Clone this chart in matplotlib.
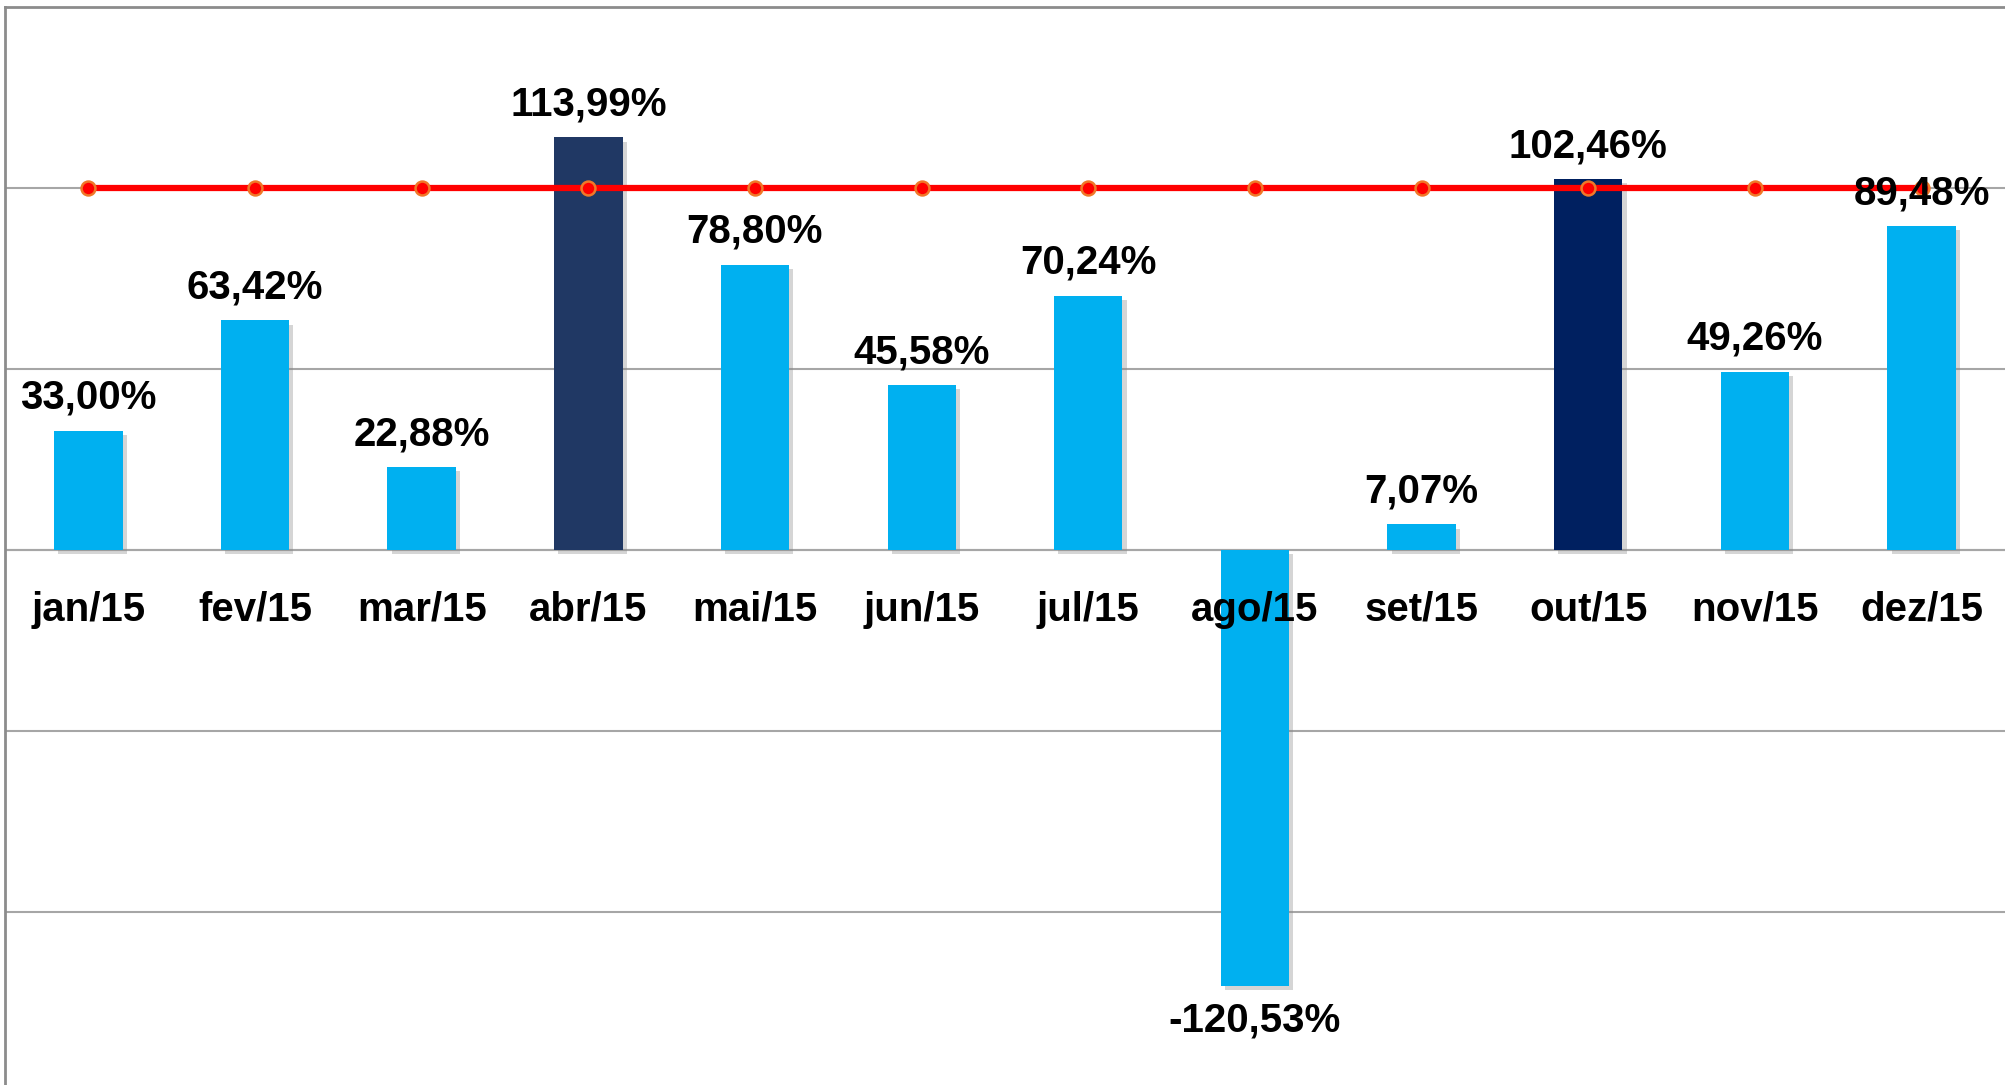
import matplotlib
matplotlib.use('Agg')
import matplotlib.pyplot as plt
import matplotlib.patheffects as pe

# monthly result vs. target (%)
months = ['jan/15', 'fev/15', 'mar/15', 'abr/15', 'mai/15', 'jun/15',
          'jul/15', 'ago/15', 'set/15', 'out/15', 'nov/15', 'dez/15']
values = [33.00, 63.42, 22.88, 113.99, 78.80, 45.58,
          70.24, -120.53, 7.07, 102.46, 49.26, 89.48]
target = [100, 100, 100, 100, 100, 100, 100, 100, 100, 100, 100, 100]
bar_colors = ['#00B0F0', '#00B0F0', '#00B0F0', '#203864', '#00B0F0', '#00B0F0',
              '#00B0F0', '#00B0F0', '#00B0F0', '#002060', '#00B0F0', '#00B0F0']

plt.rcParams['font.family'] = ['Liberation Sans', 'DejaVu Sans']

fig = plt.figure(figsize=(20.05, 10.85), dpi=100)
ax = fig.add_axes([5 / 2005, 0, 2000 / 2005, 1078 / 1085])

x = list(range(len(months)))
shadow = [pe.SimplePatchShadow(offset=(3, -3), shadow_rgbFace='#888888', alpha=0.35), pe.Normal()]
bars = ax.bar(x, values, width=0.41, color=bar_colors, zorder=3)
for b in bars:
    b.set_path_effects(shadow)

ax.plot(x, target, color='#FF0000', lw=4.5, marker='o', ms=10,
        mfc='#FF0000', mec='#F07828', mew=1.8, zorder=4)

for xi, v in zip(x, values):
    lbl = f'{v:.2f}%'.replace('.', ',')
    if v >= 0:
        ax.annotate(lbl, (xi, v), xytext=(0, 10), textcoords='offset points',
                    ha='center', va='bottom', fontsize=29, fontweight='bold', zorder=6)
    else:
        ax.annotate(lbl, (xi, v), xytext=(0, -11), textcoords='offset points',
                    ha='center', va='top', fontsize=29, fontweight='bold', zorder=6)

for xi, m in zip(x, months):
    ax.annotate(m, (xi, 0), xytext=(0, -43), textcoords='offset points',
                ha='center', va='center', fontsize=29, fontweight='bold', zorder=6)

ax.set_xlim(-0.5, 11.5)
ax.set_ylim(-147.8, 150)
ax.set_yticks([-100, -50, 0, 50, 100])
ax.yaxis.grid(True, color='#A6A6A6', lw=1.5)
ax.axhline(0, color='#A6A6A6', lw=1.5, zorder=2)
ax.set_axisbelow(True)
ax.set_xticks([])
ax.tick_params(left=False, labelleft=False)
for s in ['right', 'bottom']:
    ax.spines[s].set_visible(False)
for s in ['left', 'top']:
    ax.spines[s].set_color('#8C8C8C')
    ax.spines[s].set_linewidth(2)

fig.savefig('out.png', dpi=100)
